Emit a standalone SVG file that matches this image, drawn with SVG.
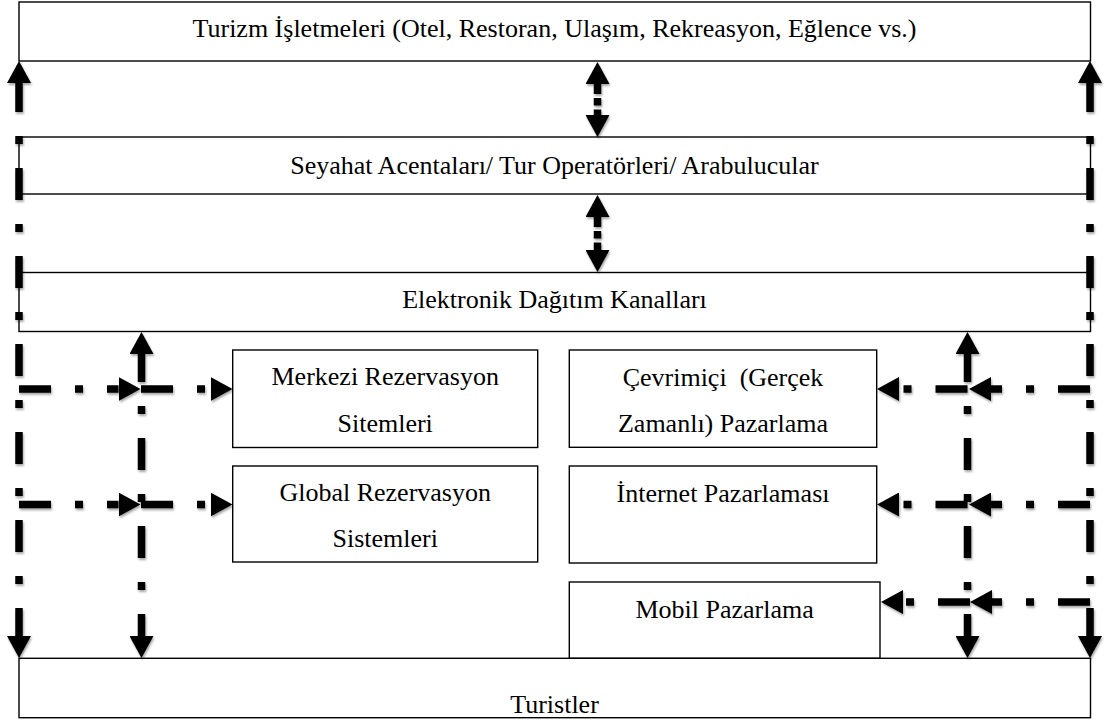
<svg xmlns="http://www.w3.org/2000/svg" width="1107" height="720" viewBox="0 0 1107 720">
<style>
.box{fill:#fff;stroke:#000;stroke-width:1.4}
.t{font-family:"Liberation Serif","Times New Roman",serif;font-size:26px;fill:#000;text-anchor:middle}
.dd{fill:none;stroke:#000;stroke-width:7.5;stroke-dasharray:32 24 8 24;marker-end:url(#arr)}
.both{marker-start:url(#arr)}
.md{fill:none;stroke:#000;stroke-width:7.5;stroke-dasharray:10 4 7.5 4;marker-start:url(#arr);marker-end:url(#arr)}
</style>
<defs>
<marker id="arr" markerUnits="userSpaceOnUse" viewBox="0 0 22 24" refX="0" refY="12" markerWidth="22" markerHeight="24" orient="auto-start-reverse">
<path d="M0,0 L22,12 L0,24 Z" fill="#000"/>
</marker>
<filter id="sh" x="-20%" y="-20%" width="140%" height="140%">
<feDropShadow dx="1" dy="2" stdDeviation="1.2" flood-color="#000" flood-opacity="0.35"/>
</filter>
</defs>
<rect width="1107" height="720" fill="#fff"/>
<g id="turizm"><rect class="box" x="19" y="2" width="1071.5" height="59"/><text class="t" x="554.5" y="37">Turizm İşletmeleri (Otel, Restoran, Ulaşım, Rekreasyon, Eğlence vs.)</text></g>
<g id="seyahat"><rect class="box" x="19" y="137" width="1071.5" height="57"/><text class="t" x="554.5" y="174">Seyahat Acentaları/ Tur Operatörleri/ Arabulucular</text></g>
<g id="elektronik"><rect class="box" x="19" y="272.5" width="1071.5" height="59"/><text class="t" x="554.5" y="308">Elektronik Dağıtım Kanalları</text></g>
<g id="merkezi"><rect class="box" x="232.7" y="350" width="305" height="97.5"/><text class="t" x="385.2" y="385">Merkezi Rezervasyon</text><text class="t" x="385.2" y="431.5">Sitemleri</text></g>
<g id="global"><rect class="box" x="232.7" y="466" width="305" height="96"/><text class="t" x="385.2" y="501">Global Rezervasyon</text><text class="t" x="385.2" y="547">Sistemleri</text></g>
<g id="cevrimici"><rect class="box" x="569.3" y="350" width="307.4" height="97.3"/><text class="t" x="723" y="385.5" xml:space="preserve">Çevrimiçi  (Gerçek</text><text class="t" x="723" y="431.5">Zamanlı) Pazarlama</text></g>
<g id="internet"><rect class="box" x="569.3" y="466" width="307.4" height="97"/><text class="t" x="723" y="501.5">İnternet Pazarlaması</text></g>
<g id="mobil"><rect class="box" x="569.3" y="582" width="310.7" height="76.3"/><text class="t" x="724.6" y="617.5">Mobil Pazarlama</text></g>
<g id="turistler"><rect class="box" x="19" y="658.3" width="1071.5" height="59.4"/><text class="t" x="554.5" y="713">Turistler</text></g>
<g id="connectors" filter="url(#sh)">
<path class="dd both" d="M19,83 V636" stroke-dashoffset="3"/>
<path class="dd both" d="M1090,83 V636" stroke-dashoffset="3"/>
<path class="dd both" d="M141.5,354 V636" stroke-dashoffset="4"/>
<path class="dd both" d="M967.5,354 V636" stroke-dashoffset="4"/>
<path class="dd" d="M19,389 H118.5"/>
<path class="dd" d="M141,389 H210.5"/>
<path class="dd" d="M1090,389 H991"/>
<path class="dd" d="M967.5,389 H899"/>
<path class="dd" d="M19,504.5 H118.5"/>
<path class="dd" d="M141,504.5 H210.5"/>
<path class="dd" d="M1090,504.5 H991"/>
<path class="dd" d="M967.5,504.5 H899"/>
<path class="dd" d="M1090,602 H992"/>
<path class="dd" d="M970,602 H903"/>
<path class="md" d="M597.5,84 V115"/>
<path class="md" d="M597.5,217 V250"/>
</g>
</svg>
